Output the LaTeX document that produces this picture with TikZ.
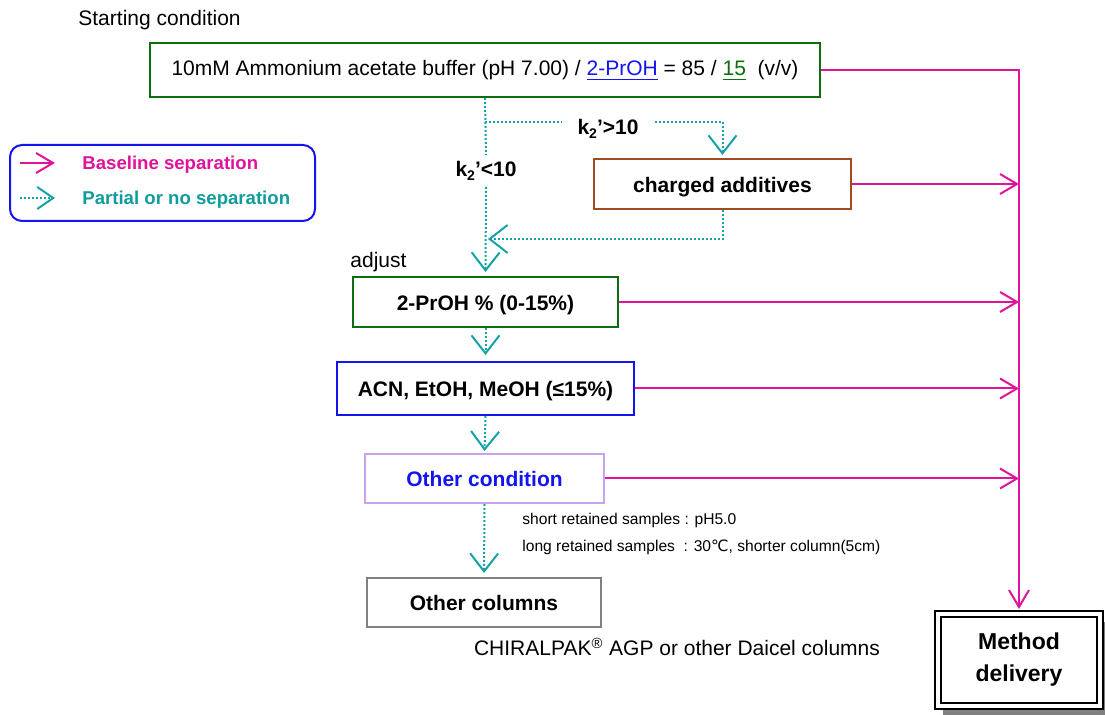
\documentclass[tikz,border=0pt]{standalone}
\usepackage{fontspec}
\setmainfont{Liberation Sans}
\newfontfamily\dejavu{DejaVu Sans}
\usetikzlibrary{arrows.meta,calc}
\definecolor{mag}{HTML}{E0139A}
\definecolor{teal2}{HTML}{14A2A6}
\definecolor{tealtxt}{HTML}{109C9C}
\definecolor{dgreen}{HTML}{0B6E0B}
\definecolor{brown2}{HTML}{A04A20}
\definecolor{lav}{HTML}{C9A2F2}
\definecolor{blue2}{HTML}{1414F0}
\definecolor{gray2}{HTML}{808080}
\newcommand{\ksub}{k\raisebox{-0.35ex}{\fontsize{7}{8}\selectfont 2}}
\begin{document}
\begin{tikzpicture}[x=0.5pt,y=-0.5pt,
  font=\fontsize{10.5}{12.6}\selectfont,
  box/.style={draw, line width=1pt, inner sep=0pt, fill=white, text height=9.5pt, text depth=1pt, font=\fontsize{10.5}{12.6}\selectfont\bfseries},
  lbl/.style={inner sep=0pt},
  yes/.style={draw=mag, line width=1pt, -{Straight Barb[length=8.5pt,width=10pt,line width=1pt]}},
  no/.style={draw=teal2, line width=1pt, dash pattern=on 1pt off 1pt, -{Straight Barb[length=9pt,width=14pt,line width=1pt]}},
  nol/.style={draw=teal2, line width=1pt, dash pattern=on 1pt off 1pt},
  ]
\useasboundingbox (0,0) rectangle (1105,715);

% labels
\node[lbl, anchor=west] (start) at (78,20) {Starting condition};

% boxes
\node[box, draw=dgreen, font=\fontsize{10.5}{12.6}\selectfont, text height=8pt, text depth=2pt, minimum width=335pt, minimum height=27pt] (top) at (485,70)
  {10mM Ammonium acetate buffer (pH 7.00) / \textcolor{blue2}{\underline{2-PrOH}} = 85 / \textcolor{dgreen}{\underline{15}}\ \ (v/v)};
\node[box, draw=brown2, minimum width=128.5pt, minimum height=25pt] (chg) at (722.5,184) {charged additives};
\node[box, draw=dgreen, minimum width=132.5pt, minimum height=25pt] (prop) at (485.5,302) {2-PrOH \% (0-15\%)};
\node[box, draw=blue2, minimum width=148.5pt, minimum height=26.5pt] (acn) at (485.5,388.5) {ACN, EtOH, MeOH (≤15\%)};
\node[box, draw=lav, text=blue2, minimum width=119.5pt, minimum height=24.5pt] (oc) at (484.5,478.5) {Other condition};
\node[box, draw=gray2, minimum width=117pt, minimum height=24.5pt] (ocol) at (484,602.5) {Other columns};

% method delivery with shadow
\fill[gray2] (943,622) rectangle (1115,725);
\node[draw, line width=1pt, double, double distance=1.6pt, fill=white, minimum width=81pt, minimum height=46pt, inner sep=0pt,
  align=center, font=\fontsize{11.5}{16}\selectfont\bfseries] (md) at (1019,660) {Method\\delivery};

% text labels
\node[lbl, font=\fontsize{10.5}{12.6}\selectfont\bfseries, inner xsep=8pt] (k2gt) at (608,129) {\ksub’>10};
\node[lbl, font=\fontsize{10.5}{12.6}\selectfont\bfseries, inner ysep=3pt] (k2lt) at (486,171) {\ksub’<10};
\node[lbl, anchor=west] (adj) at (350,262) {adjust};
\node[lbl, anchor=west, font=\fontsize{7.8}{9}\selectfont] (n1) at (522,520) {short retained samples : pH5.0};
\node[lbl, anchor=west, font=\fontsize{7.8}{9}\selectfont] (n2) at (522,547) {long retained samples\ \ : 30{\dejavu ℃}, shorter column(5cm)};
\node[lbl] (chir) at (677,647) {CHIRALPAK\textsuperscript{®} AGP or other Daicel columns};

% teal (partial / no separation) connectors
\coordinate (br) at (485,122);
\coordinate (jn) at (485,239);
\draw[nol] (top.south) -- (k2lt.north);
\draw[nol] (br) -- (br -| k2gt.west);
\draw[no, shorten >=1.5pt] (br -| k2gt.east) -| (chg.north);
\draw[no, shorten >=2pt] (k2lt.south) -- (prop.north);
\draw[no, shorten >=1.5pt] (chg.south) |- (jn);
\draw[no, shorten >=3pt] (prop.south) -- (acn.north);
\draw[no, shorten >=1pt] (acn.south) -- (oc.north);
\draw[no, shorten >=2pt] (oc.south) -- (ocol.north);

% magenta (baseline separation) connectors
\draw[yes, shorten >=2pt] (top.east) -| (md.north);
\draw[yes] (chg.east) -- (chg.east -| md.north);
\draw[yes] (prop.east) -- (prop.east -| md.north);
\draw[yes] (acn.east) -- (acn.east -| md.north);
\draw[yes] (oc.east) -- (oc.east -| md.north);

% legend
\node[draw=blue2, line width=1pt, rounded corners=6pt, minimum width=152.5pt, minimum height=38pt] (leg) at (162.5,183) {};
\node[lbl, anchor=west, text=mag, font=\fontsize{9.3}{11}\selectfont\bfseries] (lyes) at (82,165) {Baseline separation};
\node[lbl, anchor=west, text=tealtxt, font=\fontsize{9.3}{11}\selectfont\bfseries] (lno) at (82,200) {Partial or no separation};
\coordinate (ly1) at (20,163);
\coordinate (ly2) at (55,163);
\coordinate (ln1) at (20,198);
\coordinate (ln2) at (55,198);
\draw[yes] (ly1) -- (ly2);
\draw[no, -{Straight Barb[length=8pt,width=11pt,line width=1pt]}] (ln1) -- (ln2);
\end{tikzpicture}
\end{document}
